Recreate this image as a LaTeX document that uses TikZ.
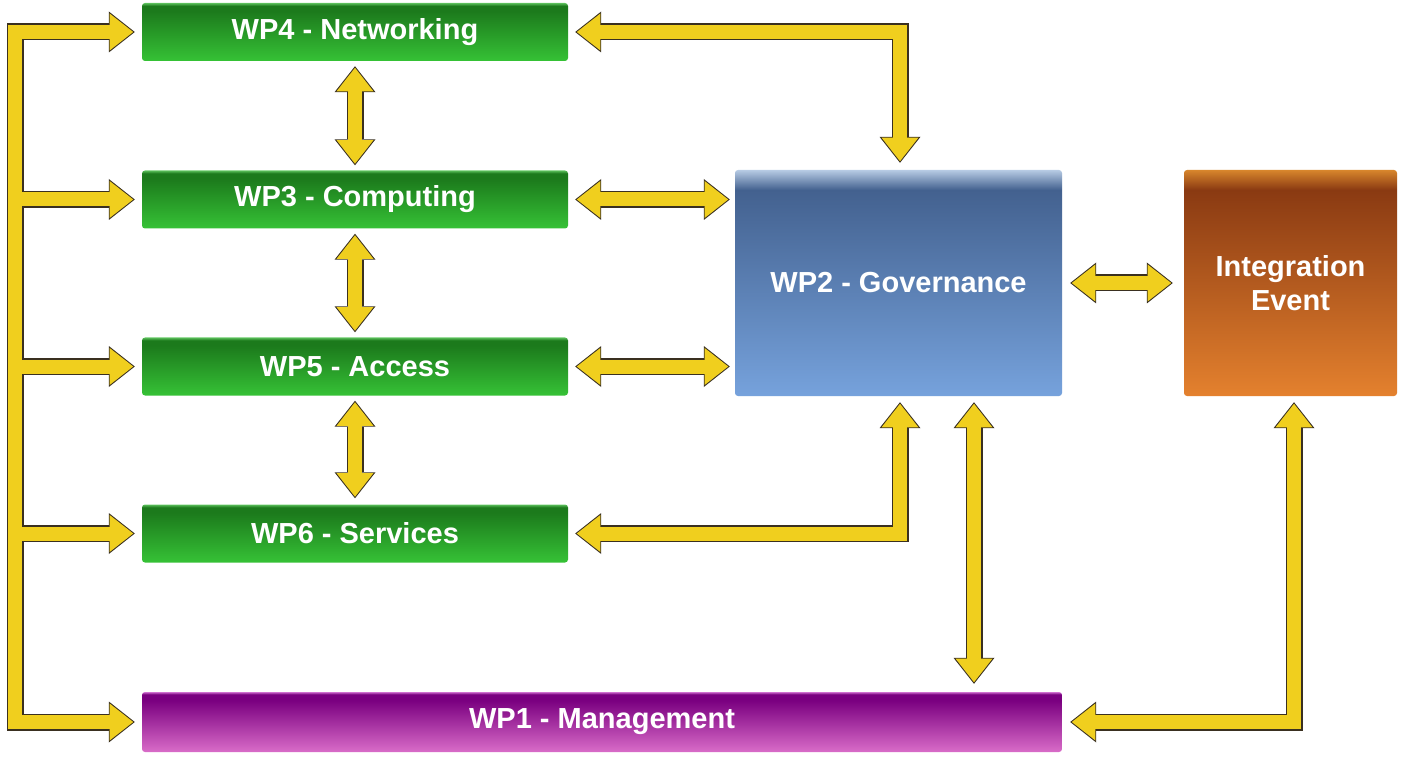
\documentclass[tikz,border=0pt]{standalone}
\usepackage{fontspec}
\setmainfont{Liberation Sans}
\usetikzlibrary{arrows.meta,calc}
\definecolor{ylw}{HTML}{F0CF1E}
\definecolor{outl}{HTML}{3A3020}
\definecolor{gTop}{HTML}{1C7A1C}
\definecolor{gBot}{HTML}{36C236}
\definecolor{gHi}{HTML}{5CC05C}
\definecolor{bHi}{HTML}{B7CBE4}
\definecolor{bTop}{HTML}{43618F}
\definecolor{bBot}{HTML}{76A2DC}
\definecolor{oHi}{HTML}{D8862C}
\definecolor{oTop}{HTML}{8A3A12}
\definecolor{oBot}{HTML}{E4812E}
\definecolor{pTop}{HTML}{7A0080}
\definecolor{pBot}{HTML}{D96CC8}
\definecolor{pHi}{HTML}{D070D0}
\pgfdeclareverticalshading{gsh}{100bp}{color(0bp)=(gBot); color(25bp)=(gBot); color(68bp)=(gTop); color(72.5bp)=(gTop); color(75bp)=(gHi); color(100bp)=(gHi)}
\pgfdeclareverticalshading{psh}{100bp}{color(0bp)=(pBot); color(25bp)=(pBot); color(68bp)=(pTop); color(73bp)=(pTop); color(75bp)=(pHi); color(100bp)=(pHi)}
\pgfdeclareverticalshading{bsh}{100bp}{color(0bp)=(bBot); color(25bp)=(bBot); color(70.6bp)=(bTop); color(75bp)=(bHi); color(100bp)=(bHi)}
\pgfdeclareverticalshading{osh}{100bp}{color(0bp)=(oBot); color(25bp)=(oBot); color(70.6bp)=(oTop); color(75bp)=(oHi); color(100bp)=(oHi)}
\newcommand\allconns[1]{%
  % left bus with first and last branch
  \draw[#1,<->] ([xshift=-7pt]wp4.west) -- (wp4.west -| busx) -- (wp1.west -| busx) -- ([xshift=-7pt]wp1.west);
  \draw[#1,->] (wp3.west -| busx) -- ([xshift=-7pt]wp3.west);
  \draw[#1,->] (wp5.west -| busx) -- ([xshift=-7pt]wp5.west);
  \draw[#1,->] (wp6.west -| busx) -- ([xshift=-7pt]wp6.west);
  % vertical links between green boxes
  \draw[#1,<->] ([yshift=-5pt]wp4.south) -- ([yshift=5pt]wp3.north);
  \draw[#1,<->] ([yshift=-5pt]wp3.south) -- ([yshift=5pt]wp5.north);
  \draw[#1,<->] ([yshift=-5pt]wp5.south) -- ([yshift=6pt]wp6.north);
  % links to WP2
  \draw[#1,<->] ([xshift=7pt]wp4.east) -- (wp4.east -| cA) -- ([yshift=7pt]wp2.north -| cA);
  \draw[#1,<->] ([xshift=7pt]wp3.east) -- ([xshift=-5pt]wp3.east -| wp2.west);
  \draw[#1,<->] ([xshift=7pt]wp5.east) -- ([xshift=-5pt]wp5.east -| wp2.west);
  \draw[#1,<->] ([xshift=7pt]wp6.east) -- (wp6.east -| cA) -- ([yshift=-6pt]wp2.south -| cA);
  \draw[#1,<->] ([yshift=-6pt]wp2.south -| cB) -- ([yshift=8pt]wp1.north -| cB);
  \draw[#1,<->] ([xshift=8pt]wp2.east) -- ([xshift=-11pt]ie.west);
  \draw[#1,<->] ([yshift=-6pt]ie.south -| cC) -- (wp1.east -| cC) -- ([xshift=8pt]wp1.east);
}
\begin{document}
\begin{tikzpicture}[x=1pt,y=-1pt,
  box/.style={rounded corners=3pt, text=white, align=center, inner sep=0pt,
    font=\bfseries\fontsize{29}{34}\selectfont},
  gbox/.style={box, minimum width=426pt, minimum height=58pt, shading=gsh},
  po/.style={draw=outl, line width=17pt, line join=miter,
    >={Triangle[length=26pt,width=41pt,line width=0pt]}},
  pi/.style={draw=ylw, line width=14pt, line join=miter,
    shorten >=1.6pt, shorten <=1.6pt,
    >={Triangle[length=23.6pt,width=37pt,line width=0pt]}},
]
\useasboundingbox (0,0) rectangle (1403,759);
\fill[white] (0,0) rectangle (1403,759);

\node[gbox] (wp4) at (355,32) {WP4 - Networking};
\node[gbox] (wp3) at (355,199.5) {WP3 - Computing};
\node[gbox] (wp5) at (355,366.5) {WP5 - Access};
\node[gbox] (wp6) at (355,533.5) {WP6 - Services};
\node[box, minimum width=920pt, minimum height=60pt, shading=psh] (wp1) at (602,722) {WP1 - Management};
\node[box, minimum width=327pt, minimum height=226pt, shading=bsh] (wp2) at (898.5,283) {WP2 - Governance};
\node[box, minimum width=213pt, minimum height=226pt, shading=osh] (ie) at (1290.5,283) {Integration\\Event};

\coordinate (busx) at (15,0);
\coordinate (cA) at (900,0);
\coordinate (cB) at (974,0);
\coordinate (cC) at (1294,0);

\allconns{po}
\allconns{pi}
\end{tikzpicture}
\end{document}
